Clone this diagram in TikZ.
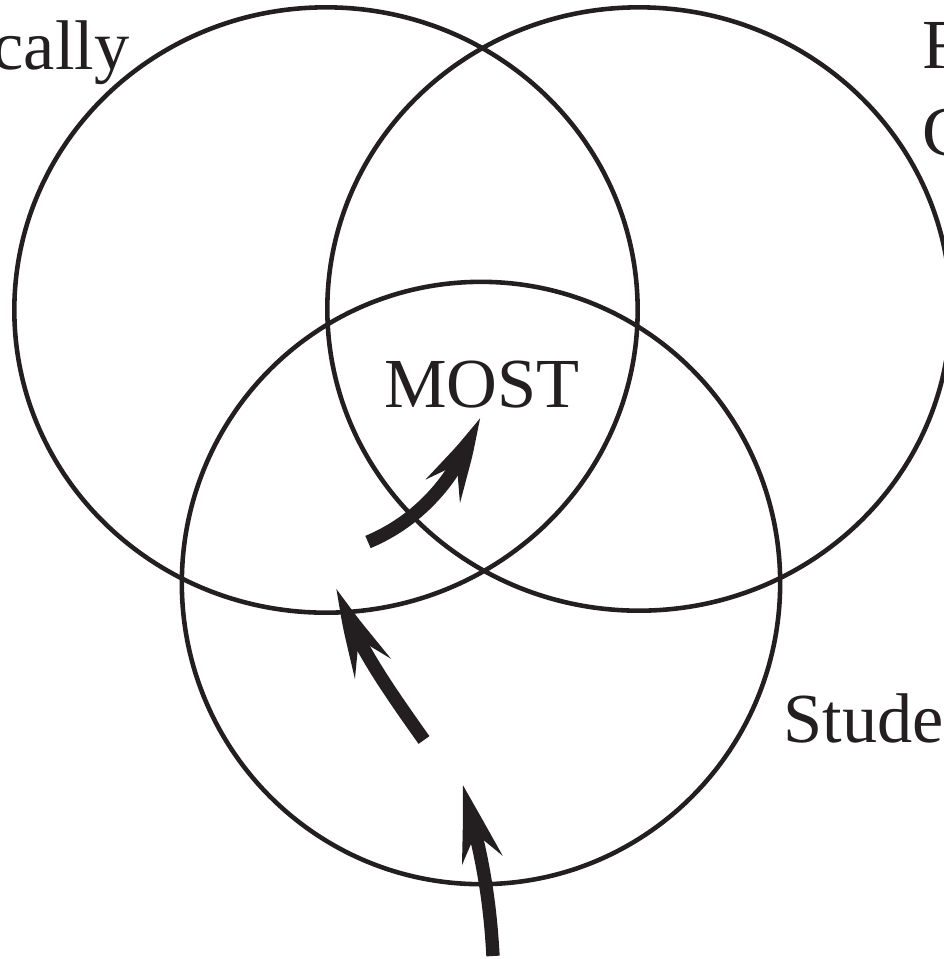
\documentclass[tikz,border=0pt]{standalone}
\usepackage{fontspec}
\setmainfont{Liberation Serif}
\usetikzlibrary{arrows.meta,bending,shapes.geometric}
\definecolor{ink}{HTML}{231F20}

\begin{document}
\begin{tikzpicture}[x=0.01cm,y=-0.01cm,font=\fontsize{20}{24}\selectfont,
  ring/.style={ellipse,draw=ink,line width=1.3pt,inner sep=0pt},
  push/.style={-{Stealth[length=8mm,width=4mm,inset=2.8mm,bend]},line width=3.8pt,draw=ink},
  lab/.style={inner sep=0pt,text=ink}]
\useasboundingbox (0,0) rectangle (944,959);
\clip (0,0) rectangle (944,959);
% the three sets
\node[ring,minimum width=6.23cm,minimum height=6.05cm] (leftset) at (326,310) {};
\node[ring,minimum width=6.23cm,minimum height=6.03cm] (rightset) at (639,309) {};
\node[ring,minimum width=5.98cm,minimum height=6.02cm] (lowset) at (481,583) {};
% labels
\node[lab,anchor=base east] (lefttxt) at (130,69) {cally};
\node[lab,anchor=base west] (righttxt1) at (922,68) {F};
\node[lab,anchor=base west] (righttxt2) at (922,155) {C};
\node[lab,anchor=base west] (lowtxt) at (783,742) {Stude};
\node[lab,anchor=base] (most) at (482,407) {MOST};
% arrows
\coordinate (tailA) at (493,956);
\coordinate (tipA) at (462,784);
\coordinate (tailB) at (424,740);
\coordinate (tipB) at (339,589);
\coordinate (tailC) at (368,542);
\coordinate (tipC) at (478,417);
\draw[push] (tailA) .. controls (490,900) and (482,850) .. (tipA);
\draw[push] (tailB) .. controls (385,685) and (350,635) .. (tipB);
\draw[push] (tailC) .. controls (425,518) and (462,470) .. (tipC);
\end{tikzpicture}
\end{document}
